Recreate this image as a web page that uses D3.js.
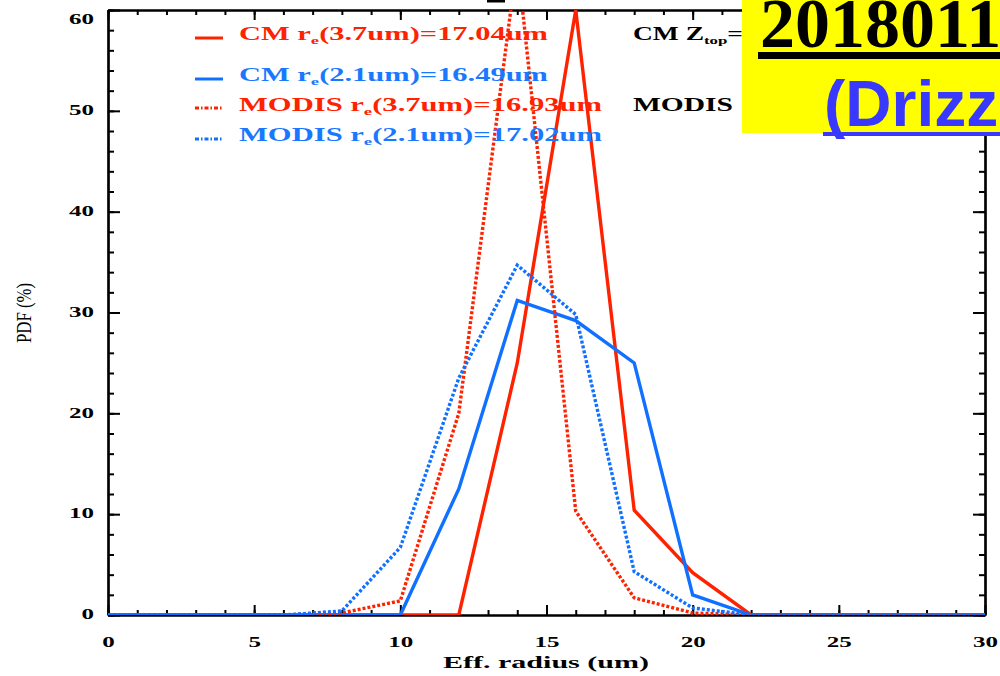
<!DOCTYPE html>
<html><head><meta charset="utf-8">
<script src="https://cdn.jsdelivr.net/npm/d3@7"></script>
<style>body{margin:0;background:#fff}svg{display:block}</style>
</head><body>
<svg id="c" width="1000" height="676"></svg>
<script>
// ---- data ----
const radius = [0,2,4,6,8,10,12,14,16,18,20,22,24,26,28,30];
const cm37   = [0,0,0,0,0,0,0,25,60,10.4,4.2,0,0,0,0,0];
const cm21   = [0,0,0,0,0,0,12.5,31.2,29.2,25,2,0,0,0,0,0];
const mod37  = [0,0,0,0,0.2,1.4,20,65,10.3,1.7,0.2,0,0,0,0,0];
const mod21  = [0,0,0,0,0.4,6.7,23.5,34.7,29.8,4.3,0.7,0,0,0,0,0];
const xTicks = [0,5,10,15,20,25,30];
const yTicks = [0,10,20,30,40,50,60];
const legendLabels = [
  ["CM r","e","(3.7um)=17.04um"],
  ["CM r","e","(2.1um)=16.49um"],
  ["MODIS r","e","(3.7um)=16.93um"],
  ["MODIS r","e","(2.1um)=17.02um"]
];
const title1 = "20180111";
const title2 = "(Drizzle)";

const RED = "#ff2200", BLUE = "#1070ff";
const series = [
  {v: cm37, c: RED, dash: null},
  {v: cm21, c: BLUE, dash: null},
  {v: mod37, c: RED, dash: "3,2"},
  {v: mod21, c: BLUE, dash: "3,2"}
];

const svg = d3.select("#c");
const L = 108, R = 985, T = 10, B = 615;
const x = d3.scaleLinear().domain([0,30]).range([L,R]);
const y = d3.scaleLinear().domain([0,60]).range([B,T]);

const serif = "'Liberation Serif','Times New Roman',serif";

// clip
svg.append("defs").append("clipPath").attr("id","pc")
  .append("rect").attr("x",L).attr("y",T).attr("width",R-L).attr("height",B-T);

function styleAxis(g, labels){
  g.selectAll(".domain").attr("stroke","#000").attr("stroke-width",2.2);
  g.selectAll(".tick line").attr("stroke","#000").attr("stroke-width",2);
  if(!labels) g.selectAll(".tick text").remove();
}
// minor axes
const minorX = d3.range(0,31,1), minorY = d3.range(0,61,2);
svg.append("g").attr("transform",`translate(0,${B})`)
  .call(d3.axisBottom(x).tickValues(minorX).tickSize(-5).tickSizeOuter(0).tickFormat(""))
  .call(g=>styleAxis(g,false));
svg.append("g").attr("transform",`translate(0,${T})`)
  .call(d3.axisTop(x).tickValues(minorX).tickSize(-5).tickSizeOuter(0).tickFormat(""))
  .call(g=>styleAxis(g,false));
svg.append("g").attr("transform",`translate(${L},0)`)
  .call(d3.axisLeft(y).tickValues(minorY).tickSize(-6).tickSizeOuter(0).tickFormat(""))
  .call(g=>styleAxis(g,false));
svg.append("g").attr("transform",`translate(${R},0)`)
  .call(d3.axisRight(y).tickValues(minorY).tickSize(-6).tickSizeOuter(0).tickFormat(""))
  .call(g=>styleAxis(g,false));
// major axes
const gx = svg.append("g").attr("transform",`translate(0,${B})`)
  .call(d3.axisBottom(x).tickValues(xTicks).tickSize(-10).tickSizeOuter(0).tickPadding(21).tickFormat(d3.format("d")));
styleAxis(gx,true);
svg.append("g").attr("transform",`translate(0,${T})`)
  .call(d3.axisTop(x).tickValues(xTicks).tickSize(-10).tickSizeOuter(0).tickFormat(""))
  .call(g=>styleAxis(g,false));
const gy = svg.append("g").attr("transform",`translate(${L},0)`)
  .call(d3.axisLeft(y).tickValues(yTicks).tickSize(-12).tickSizeOuter(0).tickPadding(14).tickFormat(d3.format("d")));
styleAxis(gy,true);
svg.append("g").attr("transform",`translate(${R},0)`)
  .call(d3.axisRight(y).tickValues(yTicks).tickSize(-12).tickSizeOuter(0).tickFormat(""))
  .call(g=>styleAxis(g,false));

[gx,gy].forEach(g=>{
  g.selectAll(".tick text")
    .attr("font-family",serif).attr("font-weight","bold").attr("font-size",15).attr("fill","#000")
    .each(function(d){ const n=String(d).length; d3.select(this).attr("textLength",12.5*n).attr("lengthAdjust","spacingAndGlyphs"); });
});
gy.selectAll(".tick text").attr("dy", d=> d===60 ? "0.9em" : "0.25em");

// axis titles
svg.append("text").attr("x",546).attr("y",668).attr("text-anchor","middle")
  .attr("font-family",serif).attr("font-weight","bold").attr("font-size",16)
  .attr("textLength",206).attr("lengthAdjust","spacingAndGlyphs")
  .text("Eff. radius (um)");
svg.append("text").attr("transform","translate(31,313) rotate(-90)").attr("text-anchor","middle")
  .attr("font-family",serif).attr("font-size",22)
  .attr("textLength",60).attr("lengthAdjust","spacingAndGlyphs")
  .text("PDF (%)");

// lines
const line = d3.line().x((d,i)=>x(radius[i])).y(d=>y(d));
const lg = svg.append("g").attr("clip-path","url(#pc)");
series.forEach(s=>{
  lg.append("path").datum(s.v).attr("d",line).attr("fill","none")
    .attr("stroke",s.c).attr("stroke-width",3.4)
    .attr("stroke-dasharray",s.dash);
});

// legend
const rowsY = [40,81,111,141];
const lineY = [38,79,108,139];
const ends = [548,548,602,602];
legendLabels.forEach((lab,i)=>{
  const s = series[i];
  svg.append("line").attr("x1",195).attr("x2",223).attr("y1",lineY[i]).attr("y2",lineY[i])
    .attr("stroke",s.c).attr("stroke-width",3).attr("stroke-dasharray",s.dash ? "4,2,1.5,2" : null);
  const t = svg.append("text").attr("x",239).attr("y",rowsY[i])
    .attr("font-family",serif).attr("font-weight","bold").attr("font-size",18)
    .attr("fill", i%2===0 ? RED : "#1a78ff")
    .attr("textLength",ends[i]-239).attr("lengthAdjust","spacingAndGlyphs");
  t.append("tspan").text(lab[0]);
  t.append("tspan").attr("dy",4).attr("font-size",11).text(lab[1]);
  t.append("tspan").attr("dy",-4).text(lab[2]);
});
// right info text (partly hidden)
const t1 = svg.append("text").attr("x",633).attr("y",40)
  .attr("font-family",serif).attr("font-weight","bold").attr("font-size",18)
  .attr("textLength",110).attr("lengthAdjust","spacingAndGlyphs");
t1.append("tspan").text("CM Z");
t1.append("tspan").attr("dy",4).attr("font-size",11).text("top");
t1.append("tspan").attr("dy",-4).text("=");
svg.append("text").attr("x",633).attr("y",111)
  .attr("font-family",serif).attr("font-weight","bold").attr("font-size",18)
  .attr("textLength",100).attr("lengthAdjust","spacingAndGlyphs").text("MODIS");

// small title remnant
svg.append("rect").attr("x",487).attr("y",0).attr("width",18).attr("height",2.5).attr("fill","#000");

// yellow title box
svg.append("rect").attr("x",742).attr("y",0).attr("width",258).attr("height",133).attr("fill","#ffff00");
svg.append("text").attr("x",760).attr("y",47)
  .attr("font-family",serif).attr("font-weight","bold").attr("font-size",70).attr("fill","#000")
  .text(title1);
svg.append("rect").attr("x",758).attr("y",52).attr("width",242).attr("height",7).attr("fill","#000");
svg.append("text").attr("x",824).attr("y",126)
  .attr("font-family","'Liberation Sans',Arial,sans-serif").attr("font-weight","bold").attr("font-size",64).attr("fill","#3838ff")
  .text(title2);
svg.append("rect").attr("x",823).attr("y",132).attr("width",177).attr("height",4).attr("fill","#3838ff");
</script>
</body></html>
